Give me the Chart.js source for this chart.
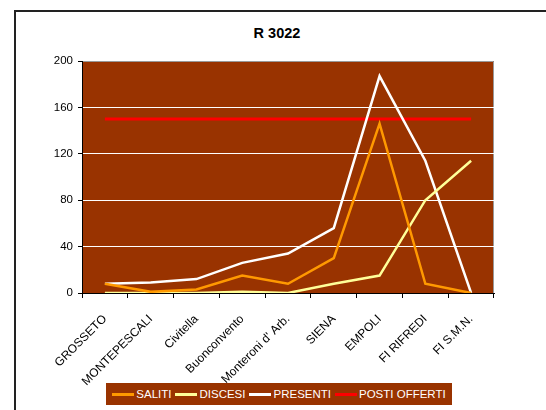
<!DOCTYPE html>
<html>
<head>
<meta charset="utf-8">
<script src="https://cdn.jsdelivr.net/npm/chart.js@4"></script>
<style>
  html, body { margin: 0; padding: 0; background: #fff; overflow: hidden; }
  body { width: 546px; height: 410px; position: relative; font-family: "Liberation Sans", Arial, sans-serif; }
  #frame { position: absolute; left: 14px; top: 10px; width: 700px; height: 600px; border-left: 2px solid #222; border-top: 2px solid #222; }
  #title { position: absolute; left: 0; width: 554px; top: 25px; text-align: center; font-weight: bold; font-size: 14.5px; color: #000; }
  #wrap { position: absolute; left: 0; top: 0; width: 546px; height: 410px; }
  #legend { position: absolute; left: 106px; top: 383px; width: 346px; height: 22px; background: #993300; display: flex; align-items: center; justify-content: center; color: #fff; font-size: 11.5px; }
  #legend .item { display: flex; align-items: center; margin: 0 2px; }
  #legend .sw { width: 22px; height: 3px; margin-right: 2px; }
</style>
</head>
<body>
<div id="frame"></div>
<div id="title">R 3022</div>
<div id="wrap"><canvas id="chart1" width="546" height="410"></canvas></div>
<div id="legend"></div>
<script>
const stations = ['GROSSETO', 'MONTEPESCALI', 'Civitella', 'Buonconvento', "Monteroni d' Arb.", 'SIENA', 'EMPOLI', 'FI RIFREDI', 'FI S.M.N.'];
const saliti = [8, 1, 3, 15, 8, 30, 146, 8, 0];
const discesi = [0, 0, 0, 1, 0, 8, 15, 80, 114];
const presenti = [8, 9, 12, 26, 34, 56, 187, 114, 0];
const postiOfferti = [150, 150, 150, 150, 150, 150, 150, 150, 150];
const yTicks = [0, 40, 80, 120, 160, 200];

const series = [
  { label: 'SALITI', data: saliti, color: '#ff9900' },
  { label: 'DISCESI', data: discesi, color: '#ffff99' },
  { label: 'PRESENTI', data: presenti, color: '#ffffff' },
  { label: 'POSTI OFFERTI', data: postiOfferti, color: '#ff0000' }
];

const plotBg = {
  id: 'plotBg',
  beforeDraw(chart) {
    const { ctx, chartArea: a } = chart;
    ctx.save();
    ctx.fillStyle = '#993300';
    ctx.fillRect(a.left, a.top, a.right - a.left, a.bottom - a.top);
    ctx.strokeStyle = '#999';
    ctx.lineWidth = 1;
    ctx.beginPath();
    ctx.moveTo(a.left, a.top + 0.5);
    ctx.lineTo(a.right - 0.5, a.top + 0.5);
    ctx.lineTo(a.right - 0.5, a.bottom);
    ctx.stroke();
    ctx.restore();
  }
};

new Chart(document.getElementById('chart1'), {
  type: 'line',
  data: {
    labels: stations,
    datasets: series.map((s) => ({
      label: s.label,
      data: s.data,
      borderColor: s.color,
      backgroundColor: s.color,
      borderWidth: s.label === 'POSTI OFFERTI' ? 3 : 2.5,
      pointRadius: 0,
      tension: 0,
      fill: false
    }))
  },
  options: {
    responsive: false,
    animation: false,
    layout: { padding: { left: 0, top: 61, right: 52, bottom: 0 } },
    plugins: { legend: { display: false }, title: { display: false }, tooltip: { enabled: false } },
    scales: {
      x: {
        offset: true,
        afterFit: (s) => { s.height = 117; },
        grid: { display: true, drawOnChartArea: false, offset: true, tickLength: 5, tickColor: '#000', color: '#000' },
        border: { color: '#000', width: 1 },
        ticks: { color: '#000', font: { family: 'Liberation Sans', size: 12 }, minRotation: 45, maxRotation: 45, autoSkip: false, padding: 14 }
      },
      y: {
        min: 0,
        max: 200,
        afterFit: (s) => { s.width = 82; },
        afterBuildTicks: (s) => { s.ticks = yTicks.map((v) => ({ value: v })); },
        grid: {
          tickLength: 4,
          tickColor: '#000',
          color: (c) => (c.tick && (c.tick.value === 0 || c.tick.value === 200) ? 'rgba(0,0,0,0)' : '#ffffff')
        },
        border: { color: '#000', width: 1 },
        ticks: { color: '#000', font: { family: 'Liberation Sans', size: 11.5 }, padding: 5 }
      }
    }
  },
  plugins: [plotBg]
});

const legend = document.getElementById('legend');
series.forEach((s) => {
  const item = document.createElement('div');
  item.className = 'item';
  const sw = document.createElement('span');
  sw.className = 'sw';
  sw.style.background = s.color;
  const txt = document.createElement('span');
  txt.textContent = s.label;
  item.appendChild(sw);
  item.appendChild(txt);
  legend.appendChild(item);
});
</script>
</body>
</html>
